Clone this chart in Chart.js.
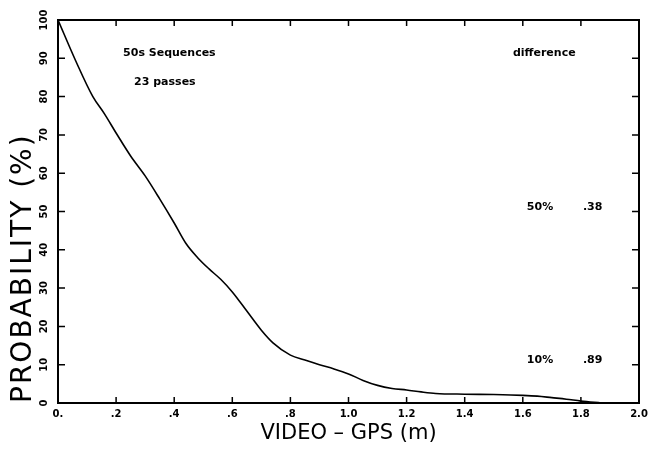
<!DOCTYPE html>
<html>
<head>
<meta charset="utf-8">
<script src="https://cdn.jsdelivr.net/npm/chart.js@4.4.1/dist/chart.umd.min.js"></script>
<style>
  html, body { margin: 0; padding: 0; background: #fff; }
  #wrap { width: 654px; height: 451px; }
</style>
</head>
<body>
<div id="wrap"><canvas id="myChart"></canvas></div>
<script>
// datos
const difference = [0, 0.06, 0.12, 0.16, 0.2, 0.25, 0.3, 0.35, 0.4, 0.44, 0.48, 0.52, 0.56, 0.6, 0.65, 0.7, 0.74, 0.8, 0.85, 0.9, 0.95, 1.0, 1.05, 1.1, 1.15, 1.2, 1.25, 1.3, 1.4, 1.5, 1.6, 1.65, 1.7, 1.75, 1.8, 1.87];
const probability = [100, 89.5, 80, 75.5, 70.5, 64.5, 59.3, 53.3, 47, 41.7, 38, 35, 32.3, 29, 24, 19, 15.7, 12.5, 11.2, 10, 8.9, 7.6, 5.9, 4.6, 3.8, 3.4, 2.9, 2.5, 2.3, 2.2, 2.0, 1.8, 1.4, 1.0, 0.5, 0];
const xTickLabels = ["0.", ".2", ".4", ".6", ".8", "1.0", "1.2", "1.4", "1.6", "1.8", "2.0"];
const yTickLabels = ["0", "10", "20", "30", "40", "50", "60", "70", "80", "90", "100"];
const notes = ["50s Sequences", "23 passes", "difference", "50%", ".38", "10%", ".89"];

const points = difference.map(function(d, i) { return { x: d, y: probability[i] }; });

// marco y marcas hacia adentro
const framePlugin = {
  id: "frame",
  beforeDraw: function(chart) {
    // titulo del eje y un poco mas espaciado
    const s = chart.scales.y;
    if (!s._spaced) {
      const orig = s.drawTitle;
      s.drawTitle = function() {
        const prev = this.ctx.letterSpacing;
        this.ctx.letterSpacing = "2px";
        orig.call(this);
        this.ctx.letterSpacing = prev || "0px";
      };
      s._spaced = true;
    }
  },
  afterDraw: function(chart) {
    const ctx = chart.ctx;
    const a = chart.chartArea;
    const sx = chart.scales.x;
    const sy = chart.scales.y;
    ctx.save();
    ctx.strokeStyle = "#000";
    ctx.lineWidth = 2;
    ctx.strokeRect(a.left, a.top, a.right - a.left, a.bottom - a.top);
    ctx.lineWidth = 1.5;
    ctx.beginPath();
    sx.ticks.forEach(function(t) {
      const px = sx.getPixelForValue(t.value);
      ctx.moveTo(px, a.bottom); ctx.lineTo(px, a.bottom - 6);
      ctx.moveTo(px, a.top); ctx.lineTo(px, a.top + 6);
    });
    sy.ticks.forEach(function(t) {
      const py = sy.getPixelForValue(t.value);
      ctx.moveTo(a.left, py); ctx.lineTo(a.left + 7, py);
      ctx.moveTo(a.right, py); ctx.lineTo(a.right - 7, py);
    });
    ctx.stroke();

    // textos
    ctx.fillStyle = "#000";
    ctx.font = "bold 11px 'DejaVu Sans'";
    ctx.textAlign = "left";
    ctx.textBaseline = "middle";
    const spots = [[0.224, 91.4], [0.262, 83.8], [1.566, 91.4], [1.614, 51.2], [1.807, 51.2], [1.614, 11.2], [1.807, 11.2]];
    notes.forEach(function(txt, i) {
      ctx.fillText(txt, sx.getPixelForValue(spots[i][0]), sy.getPixelForValue(spots[i][1]));
    });
    ctx.restore();
  }
};

const config = {
  type: "line",
  data: {
    datasets: [{
      data: points,
      borderColor: "#000",
      borderWidth: 1.6,
      pointRadius: 0,
      fill: false,
      cubicInterpolationMode: "monotone"
    }]
  },
  options: {
    responsive: false,
    animation: false,
    layout: { padding: { top: 20, right: 15, left: 0, bottom: 0 } },
    plugins: { legend: { display: false }, tooltip: { enabled: false } },
    scales: {
      x: {
        type: "linear",
        min: 0,
        max: 2,
        afterFit: function(s) { s.height = 48; },
        ticks: {
          stepSize: 0.2,
          autoSkip: false,
          maxRotation: 0,
          padding: 5,
          color: "#000",
          font: { family: "DejaVu Sans", size: 10, weight: "bold" },
          callback: function(v, i) { return xTickLabels[i]; }
        },
        grid: { display: false, drawTicks: false },
        border: { display: false },
        title: {
          display: true,
          text: "VIDEO \u2013 GPS (m)",
          color: "#000",
          font: { family: "DejaVu Sans", size: 21 },
          padding: { top: 0, bottom: 5 }
        }
      },
      y: {
        min: 0,
        max: 100,
        afterFit: function(s) { s.width = 58; },
        ticks: {
          stepSize: 10,
          minRotation: 90,
          maxRotation: 90,
          crossAlign: "center",
          padding: 3,
          color: "#000",
          font: { family: "DejaVu Sans", size: 10, weight: "bold" },
          callback: function(v, i) { return yTickLabels[i]; }
        },
        grid: { display: false, drawTicks: false },
        border: { display: false },
        title: {
          display: true,
          text: "PROBABILITY (%)",
          align: "start",
          color: "#000",
          font: { family: "DejaVu Sans", size: 28 },
          padding: { top: 7, bottom: 0 }
        }
      }
    }
  },
  plugins: [framePlugin]
};

const canvas = document.getElementById("myChart");
canvas.width = 654;
canvas.height = 451;
var myChart = new Chart(canvas, config);
</script>
</body>
</html>
